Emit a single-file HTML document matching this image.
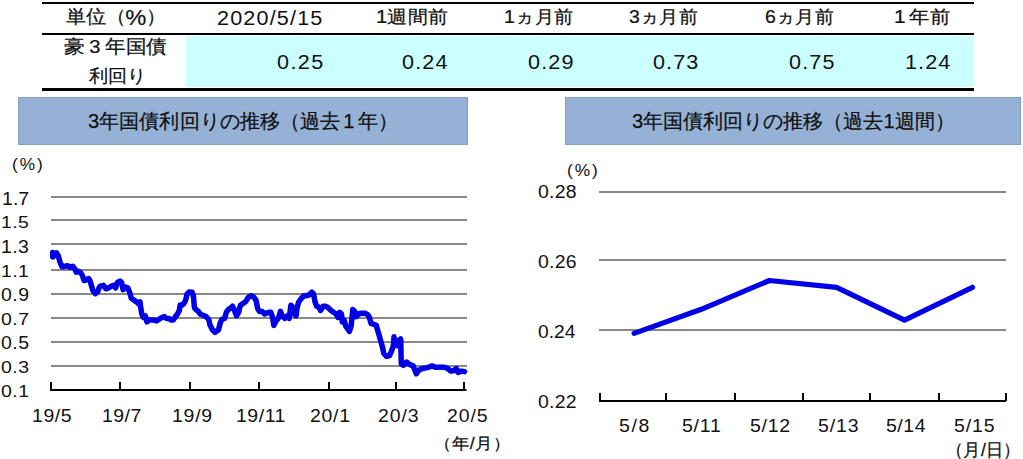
<!DOCTYPE html>
<html><head><meta charset="utf-8">
<style>
*{margin:0;padding:0;box-sizing:border-box}
html,body{width:1023px;height:459px;background:#fff;overflow:hidden}
body{position:relative;font-family:"Liberation Sans",sans-serif;color:#111}
.lb{position:absolute;white-space:nowrap;transform-origin:0 0}
.bx{position:absolute}
.cj{-webkit-text-stroke:0.25px #111}
span.hw{margin:0 5px} span.pc{font-size:24px;position:relative;top:2px} span.sp{display:inline-block;width:3px}
svg{position:absolute;left:0;top:0}
</style></head><body>
<div class="bx" style="left:186px;top:36px;width:788px;height:51px;background:#ccffff"></div>
<div class="bx" style="left:42px;top:2px;width:932px;height:2px;background:#000"></div>
<div class="bx" style="left:42px;top:33px;width:932px;height:2px;background:#000"></div>
<div class="bx" style="left:42px;top:88px;width:932px;height:3px;background:#000"></div>
<div class="bx" style="left:18px;top:97px;width:450px;height:48px;background:#96b1d6;border:1px solid #8c9ebf"></div>
<div class="bx" style="left:565px;top:97px;width:456px;height:48px;background:#96b1d6;border:1px solid #8c9ebf"></div>
<svg width="1023" height="459" viewBox="0 0 1023 459">
<g stroke="#888888" stroke-width="2">
<line x1="51" y1="197" x2="467" y2="197"/>
<line x1="51" y1="220" x2="467" y2="220"/>
<line x1="51" y1="244" x2="467" y2="244"/>
<line x1="51" y1="270" x2="467" y2="270"/>
<line x1="51" y1="294" x2="467" y2="294"/>
<line x1="51" y1="318" x2="467" y2="318"/>
<line x1="51" y1="342" x2="467" y2="342"/>
<line x1="51" y1="366" x2="467" y2="366"/>
<line x1="599" y1="192" x2="1006" y2="192"/>
<line x1="599" y1="260" x2="1006" y2="260"/>
<line x1="599" y1="330" x2="1006" y2="330"/>
</g>
<g fill="#000">
<rect x="50" y="389" width="416.5" height="2"/>
<rect x="50" y="382" width="2" height="8"/><rect x="119" y="382" width="2" height="8"/><rect x="189" y="382" width="2" height="8"/><rect x="258" y="382" width="2" height="8"/><rect x="328" y="382" width="2" height="8"/><rect x="395" y="382" width="2" height="8"/><rect x="463" y="382" width="2" height="8"/>
<rect x="599" y="400" width="407" height="2"/>
<rect x="599" y="393" width="2" height="8"/><rect x="665" y="393" width="2" height="8"/><rect x="734" y="393" width="2" height="8"/><rect x="802" y="393" width="2" height="8"/><rect x="869" y="393" width="2" height="8"/><rect x="938" y="393" width="2" height="8"/><rect x="1005" y="393" width="2" height="8"/>
</g>
<polyline fill="none" stroke="#0000e6" stroke-width="5.5" stroke-linecap="round" stroke-linejoin="round" points="52.7,252.6 52.8,257 54.5,255 56.5,253 58.3,256 60,262 62,266.8 64.9,266.3 67.8,265.8 69.8,267.3 72.7,266.3 74.7,268.7 76.2,272.2 78.1,271.2 80.6,272.6 82.5,275.6 84,280.5 86,280 88.4,278.5 89.9,280.5 91.4,285.4 92.8,290.3 95.3,293.7 97.7,291.8 99.2,287.4 100.4,286.2 103.4,285.3 106,288.8 108.6,287.9 111.2,286.2 113.8,285.3 115.6,287.9 117.3,282.7 120,281 121.7,282.7 123.1,289.6 124.9,287 127.8,287.9 129.6,292.2 131.3,298.3 133.9,300.1 136.6,301.8 138.3,303.6 140,301.8 140.9,308.8 141.8,314 143.5,317.5 145.3,315.8 147,321.9 148.8,320.1 151.4,320.1 154,320.1 156.6,321 159.2,319.3 161.8,317.5 164.4,316.6 166.2,318.4 168.8,318.4 171.4,320.1 173.2,320.1 174.9,317.5 177.5,314 179.3,310.5 180.2,305 181.7,305.3 183.9,303.5 185.7,300 187,294.2 189.2,292 192.2,292.3 193.5,296.6 193.9,301.8 194.4,307.6 196.1,309.6 198.3,311.4 200.5,314.2 203.1,315.3 206.1,316.6 208.8,319.5 209.8,324.5 212.4,329.7 215,332.3 218.5,329.7 220.3,322.7 222,319.3 224.6,318.4 226.4,312.3 228.1,309.7 230.7,307.9 232.5,306.2 234.2,309.7 236.5,315.8 238.6,312.3 240.3,305.3 242.9,303.6 245.5,301.8 248.2,297.5 250.8,295.7 253.4,296.6 256,300.1 257.7,308.8 259.5,311.4 262.1,311.4 264.7,314 266.5,313.2 269.1,312.3 270.9,312.3 272.6,317.5 273.8,325.4 276.1,321 278.7,317.5 280.5,311.4 282.2,315.8 284.8,318.4 287.4,315.8 289.2,318.4 290.9,305.3 292.7,307.1 294.4,314 296.1,315.8 297,307.9 298.8,301.8 301.4,298.3 304,295.7 306.6,295.7 309.2,294.9 311.8,292.2 313.6,294 315,301.8 316.7,306.2 318.8,307.1 320.5,310.5 323.2,306.2 325.8,306.2 328.4,307.9 331,310.5 333.6,312.3 336.2,314 338,317.5 339.7,312.3 341.5,314 342.3,321.9 344.1,320.1 345.8,326.2 347.6,328.8 349.4,331.4 351.1,326.1 352.8,309.6 354.6,311.3 356.3,316.6 358.9,313.8 361.6,313.2 365,313.2 367.7,314.6 369.4,317.4 371.1,323.5 373.8,324.4 376.4,325.3 377.2,328.8 379,334.9 380.7,341 382.5,347.1 383.8,353.5 386.5,356.4 389.5,355.6 391.5,351 393.3,346 394,336.8 395.3,342 397.3,345.5 399.3,340.5 400.7,339 401,352 401.3,364 403.3,365.3 406.5,362 409.8,364.6 413.1,365.9 415,370.5 416.3,373.8 418.3,370.5 422.2,368.5 426.1,367.9 428.7,367.2 432,365.9 435.3,367.2 439.2,367.2 444.4,367.2 447.7,368.5 450.9,371.1 454.2,370.5 456.2,368.5 458.1,372.4 461.4,371.1 464.5,371.6"/>
<polyline fill="none" stroke="#0000e6" stroke-width="5.2" stroke-linecap="round" stroke-linejoin="round" points="634.1,333.4 701.3,309.3 769.4,280.5 836.6,287.3 904.5,320.1 972.5,287.3"/>
</svg>
<div class="lb cj" style="left:66.40px;top:6.44px;font-size:20px;line-height:20px;letter-spacing:0.00px;transform:scale(0.9886,0.9316)">単位（<span class="pc">%</span>）</div>
<div class="lb cj" style="left:63.69px;top:37.47px;font-size:20px;line-height:20px;letter-spacing:0.00px;transform:scale(1.0071,0.9263)">豪<span class="hw">3</span>年国債</div>
<div class="lb cj" style="left:88.90px;top:66.81px;font-size:20px;line-height:20px;letter-spacing:0.00px;transform:scale(0.9455,0.8895)">利回り</div>
<div class="lb" style="left:216.92px;top:8.05px;font-size:20px;line-height:20px;letter-spacing:1.07px;transform:scale(1.0800,0.9733)">2020/5/15</div>
<div class="lb cj" style="left:375.66px;top:7.38px;font-size:20px;line-height:20px;letter-spacing:0.00px;transform:scale(1.0191,0.9211)">1週間前</div>
<div class="lb cj" style="left:503.74px;top:7.38px;font-size:20px;line-height:20px;letter-spacing:0.00px;transform:scale(0.9809,0.9211)">1ヵ月前</div>
<div class="lb cj" style="left:629.33px;top:7.38px;font-size:20px;line-height:20px;letter-spacing:0.00px;transform:scale(0.9739,0.9211)">3ヵ月前</div>
<div class="lb cj" style="left:765.33px;top:7.38px;font-size:20px;line-height:20px;letter-spacing:0.00px;transform:scale(0.9725,0.9211)">6ヵ月前</div>
<div class="lb cj" style="left:893.91px;top:7.38px;font-size:20px;line-height:20px;letter-spacing:0.00px;transform:scale(1.0451,0.9211)">1<span class="sp"></span>年前</div>
<div class="lb" style="left:276.92px;top:51.66px;font-size:20px;line-height:20px;letter-spacing:1.31px;transform:scale(1.0800,1.0143)">0.25</div>
<div class="lb" style="left:402.22px;top:51.66px;font-size:20px;line-height:20px;letter-spacing:1.06px;transform:scale(1.0800,1.0143)">0.24</div>
<div class="lb" style="left:527.52px;top:51.66px;font-size:20px;line-height:20px;letter-spacing:1.06px;transform:scale(1.0800,1.0143)">0.29</div>
<div class="lb" style="left:653.12px;top:51.66px;font-size:20px;line-height:20px;letter-spacing:1.00px;transform:scale(1.0800,1.0143)">0.73</div>
<div class="lb" style="left:789.32px;top:51.66px;font-size:20px;line-height:20px;letter-spacing:1.06px;transform:scale(1.0800,1.0143)">0.75</div>
<div class="lb" style="left:905.14px;top:51.66px;font-size:20px;line-height:20px;letter-spacing:1.02px;transform:scale(1.0800,1.0143)">1.24</div>
<div class="lb cj" style="left:87.80px;top:111.00px;font-size:20px;line-height:20px;letter-spacing:0.00px;transform:scale(1.0048,1.0000)">3年国債利回りの推移（過去<span class="sp"></span>1<span class="sp"></span>年）</div>
<div class="lb cj" style="left:631.80px;top:111.00px;font-size:20px;line-height:20px;letter-spacing:0.00px;transform:scale(1.0013,1.0000)">3年国債利回りの推移（過去1週間）</div>
<div class="lb" style="left:12.02px;top:156.13px;font-size:16px;line-height:16px;letter-spacing:1.79px;transform:scale(1.0800,1.0733)">(%)</div>
<div class="lb" style="left:1.92px;top:189.56px;font-size:18px;line-height:18px;letter-spacing:0.07px;transform:scale(1.0800,0.9692)">1.7</div>
<div class="lb" style="left:1.32px;top:213.61px;font-size:18px;line-height:18px;letter-spacing:0.35px;transform:scale(1.0800,0.9462)">1.5</div>
<div class="lb" style="left:1.32px;top:238.08px;font-size:18px;line-height:18px;letter-spacing:0.35px;transform:scale(1.0800,1.0077)">1.3</div>
<div class="lb" style="left:1.32px;top:262.72px;font-size:18px;line-height:18px;letter-spacing:0.35px;transform:scale(1.0800,0.9385)">1.1</div>
<div class="lb" style="left:0.52px;top:286.25px;font-size:18px;line-height:18px;letter-spacing:0.49px;transform:scale(1.0800,0.9769)">0.9</div>
<div class="lb" style="left:0.52px;top:310.85px;font-size:18px;line-height:18px;letter-spacing:0.49px;transform:scale(1.0800,0.9231)">0.7</div>
<div class="lb" style="left:0.52px;top:334.12px;font-size:18px;line-height:18px;letter-spacing:0.49px;transform:scale(1.0800,0.9923)">0.5</div>
<div class="lb" style="left:0.52px;top:358.64px;font-size:18px;line-height:18px;letter-spacing:0.49px;transform:scale(1.0800,0.9308)">0.3</div>
<div class="lb" style="left:0.52px;top:382.92px;font-size:18px;line-height:18px;letter-spacing:0.49px;transform:scale(1.0800,0.9385)">0.1</div>
<div class="lb" style="left:32.42px;top:407.23px;font-size:18px;line-height:18px;letter-spacing:0.57px;transform:scale(1.0800,0.9846)">19/5</div>
<div class="lb" style="left:101.52px;top:407.23px;font-size:18px;line-height:18px;letter-spacing:0.45px;transform:scale(1.0800,0.9846)">19/7</div>
<div class="lb" style="left:172.22px;top:407.23px;font-size:18px;line-height:18px;letter-spacing:0.70px;transform:scale(1.0800,0.9846)">19/9</div>
<div class="lb" style="left:235.52px;top:407.23px;font-size:18px;line-height:18px;letter-spacing:0.50px;transform:scale(1.0800,0.9846)">19/11</div>
<div class="lb" style="left:309.82px;top:407.23px;font-size:18px;line-height:18px;letter-spacing:0.67px;transform:scale(1.0800,0.9846)">20/1</div>
<div class="lb" style="left:377.82px;top:407.23px;font-size:18px;line-height:18px;letter-spacing:0.82px;transform:scale(1.0800,0.9846)">20/3</div>
<div class="lb" style="left:446.92px;top:407.23px;font-size:18px;line-height:18px;letter-spacing:0.82px;transform:scale(1.0800,0.9846)">20/5</div>
<div class="lb cj" style="left:433.83px;top:435.90px;font-size:16px;line-height:16px;letter-spacing:0.00px;transform:scale(1.1167,1.0267)">（年/月）</div>
<div class="lb" style="left:566.82px;top:162.67px;font-size:16px;line-height:16px;letter-spacing:1.83px;transform:scale(1.0800,1.0333)">(%)</div>
<div class="lb" style="left:538.42px;top:183.00px;font-size:18px;line-height:18px;letter-spacing:0.20px;transform:scale(1.0800,1.0000)">0.28</div>
<div class="lb" style="left:538.42px;top:252.77px;font-size:18px;line-height:18px;letter-spacing:0.20px;transform:scale(1.0800,1.0154)">0.26</div>
<div class="lb" style="left:538.43px;top:322.88px;font-size:18px;line-height:18px;letter-spacing:0.00px;transform:scale(1.0676,1.0077)">0.24</div>
<div class="lb" style="left:538.42px;top:392.88px;font-size:18px;line-height:18px;letter-spacing:0.20px;transform:scale(1.0800,1.0077)">0.22</div>
<div class="lb" style="left:618.92px;top:417.12px;font-size:18px;line-height:18px;letter-spacing:1.51px;transform:scale(1.0800,0.9923)">5/8</div>
<div class="lb" style="left:681.62px;top:417.12px;font-size:18px;line-height:18px;letter-spacing:0.75px;transform:scale(1.0800,0.9923)">5/11</div>
<div class="lb" style="left:749.62px;top:417.12px;font-size:18px;line-height:18px;letter-spacing:0.70px;transform:scale(1.0800,0.9923)">5/12</div>
<div class="lb" style="left:817.62px;top:417.12px;font-size:18px;line-height:18px;letter-spacing:0.82px;transform:scale(1.0800,0.9923)">5/13</div>
<div class="lb" style="left:885.72px;top:417.12px;font-size:18px;line-height:18px;letter-spacing:0.52px;transform:scale(1.0800,0.9923)">5/14</div>
<div class="lb" style="left:953.92px;top:417.12px;font-size:18px;line-height:18px;letter-spacing:0.82px;transform:scale(1.0800,0.9923)">5/15</div>
<div class="lb cj" style="left:946.38px;top:440.56px;font-size:16px;line-height:16px;letter-spacing:0.00px;transform:scale(1.0917,1.1429)">（月/日）</div>
</body></html>
